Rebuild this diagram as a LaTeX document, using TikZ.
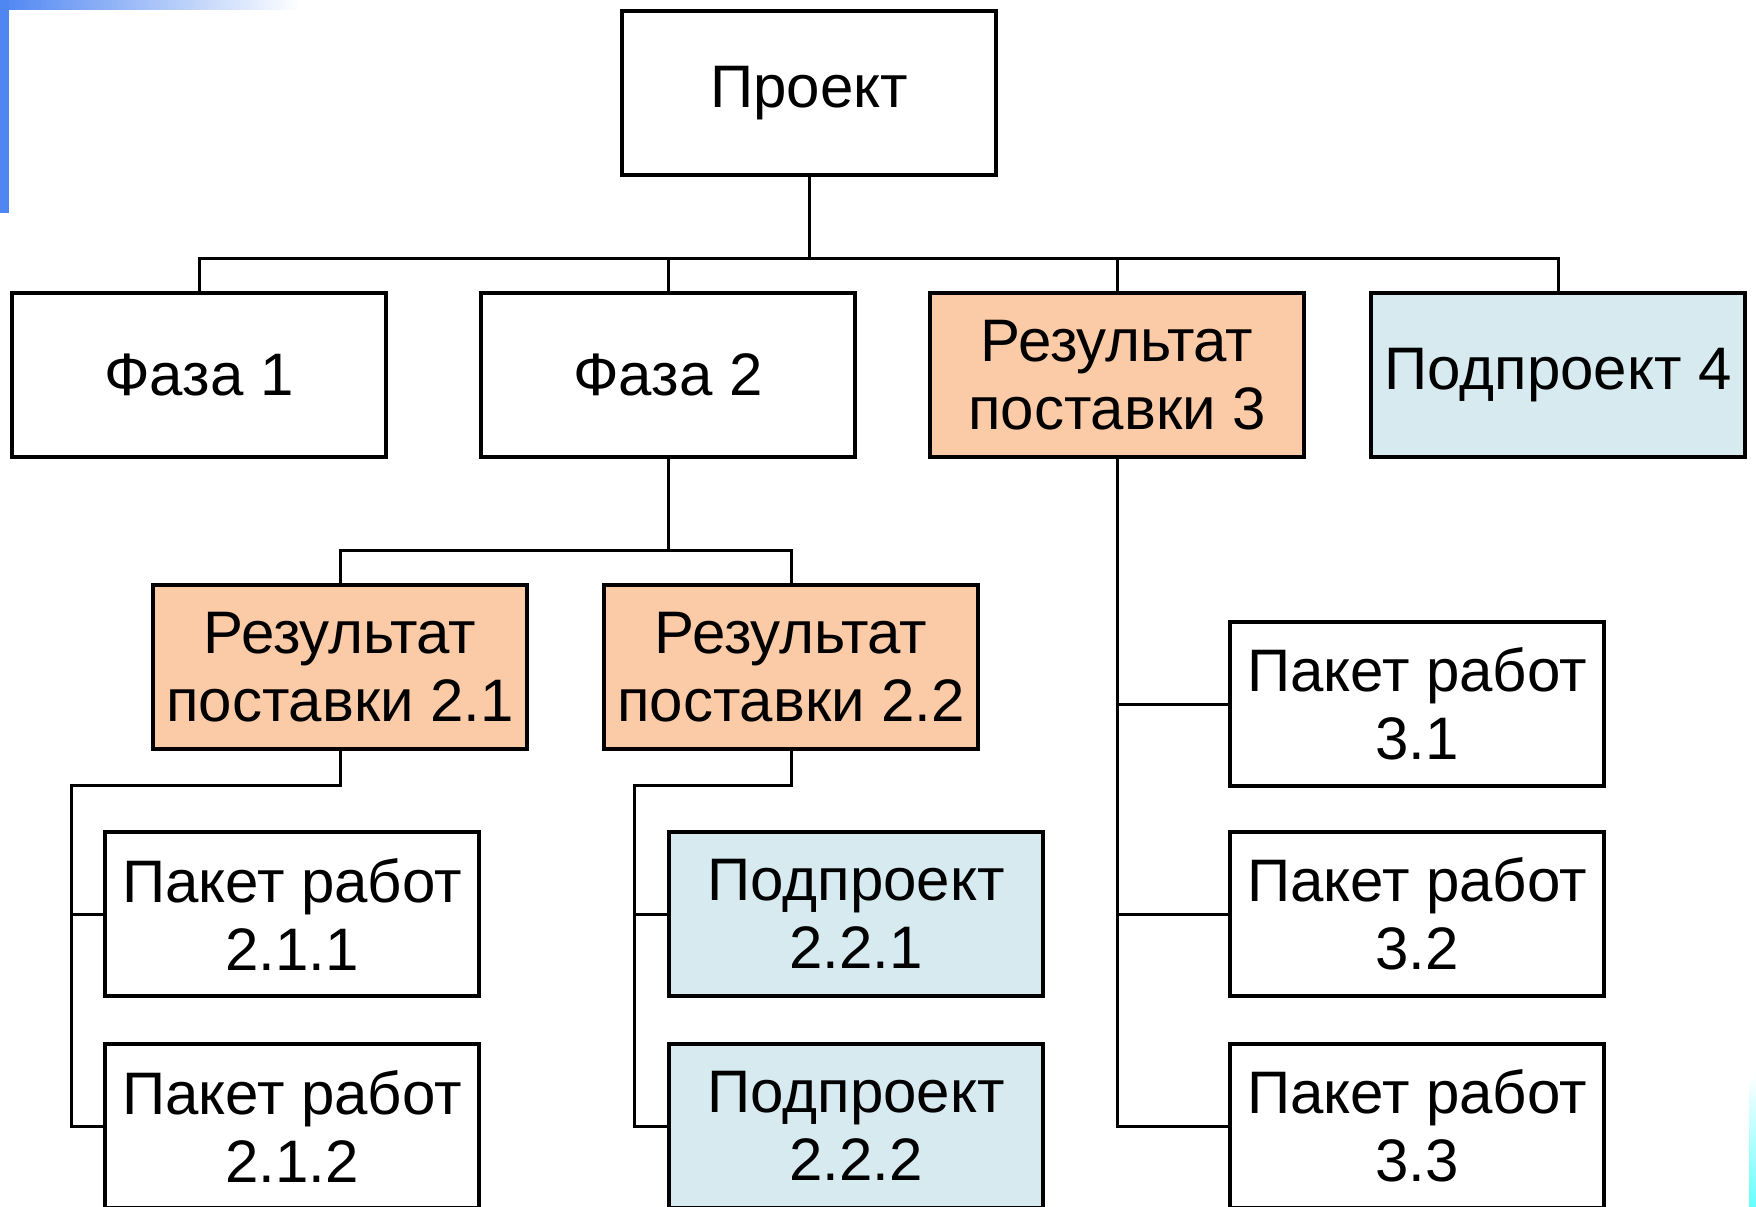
\documentclass[tikz,border=0pt]{standalone}
\usepackage{fontspec}
\setmainfont{Liberation Sans}
\usetikzlibrary{positioning}

\definecolor{peach}{HTML}{FBCBA7}
\definecolor{paleblue}{HTML}{D6EAF0}
\definecolor{slideblue}{HTML}{4F86F2}

\tikzset{
  wbs/.style={draw,line width=1.6pt,rectangle,minimum width=187pt,minimum height=82pt,
    inner sep=2pt,align=center,font=\fontsize{30}{34}\selectfont},
  result/.style={wbs,fill=peach},
  subproj/.style={wbs,fill=paleblue},
  work/.style={wbs,fill=white}
}

\begin{document}
\begin{tikzpicture}[x=0.5pt,y=-0.5pt,line width=1.5pt]
\useasboundingbox (0,0) rectangle (1756,1206);

% slide background bits
\shade[left color=slideblue,right color=white] (0,0) rectangle (300,9);
\fill[slideblue] (0,0) rectangle (9,213);
\shade[top color=white,bottom color=cyan!60] (1749,1075) rectangle (1756,1206);

\node[work](proj) at (809,93){Проект};

\node[work](faza1) at (199,375){Фаза 1};
\node[work](faza2) at (668,375){Фаза 2};
\node[result](res3) at (1117,375){Результат\\поставки 3};
\node[subproj](sub4) at (1558,375){Подпроект 4};

\node[result](res21) at (340,667){Результат\\поставки 2.1};
\node[result](res22) at (791,667){Результат\\поставки 2.2};

\node[work](pk211) at (292,914){Пакет работ\\2.1.1};
\node[work](pk212) at (292,1126){Пакет работ\\2.1.2};
\node[subproj](sub221) at (856,914){Подпроект\\2.2.1};
\node[subproj](sub222) at (856,1126){Подпроект\\2.2.2};

\node[work](pk31) at (1417,704){Пакет работ\\3.1};
\node[work](pk32) at (1417,914){Пакет работ\\3.2};
\node[work](pk33) at (1417,1126){Пакет работ\\3.3};

\coordinate(b0) at (proj |- 0,258);
\coordinate(b2) at (faza2 |- 0,550);
\coordinate(e21) at (res21 |- 0,785);
\coordinate(l21) at (71,785);
\coordinate(e22) at (res22 |- 0,785);
\coordinate(l22) at (634,785);

% level 1
\draw (proj) -- (b0);
\draw (faza1) |- (b0) -| (sub4);
\draw (b0) -| (faza2);
\draw (b0) -| (res3);

% phase 2
\draw (faza2) -- (b2);
\draw (b2) -| (res21);
\draw (b2) -| (res22);

\draw (res21) -- (e21) -- (l21) |- (pk211);
\draw (l21) |- (pk212);
\draw (res22) -- (e22) -- (l22) |- (sub221);
\draw (l22) |- (sub222);

% deliverable 3
\draw (res3) |- (pk31);
\draw (res3) |- (pk32);
\draw (res3) |- (pk33);

\end{tikzpicture}
\end{document}
